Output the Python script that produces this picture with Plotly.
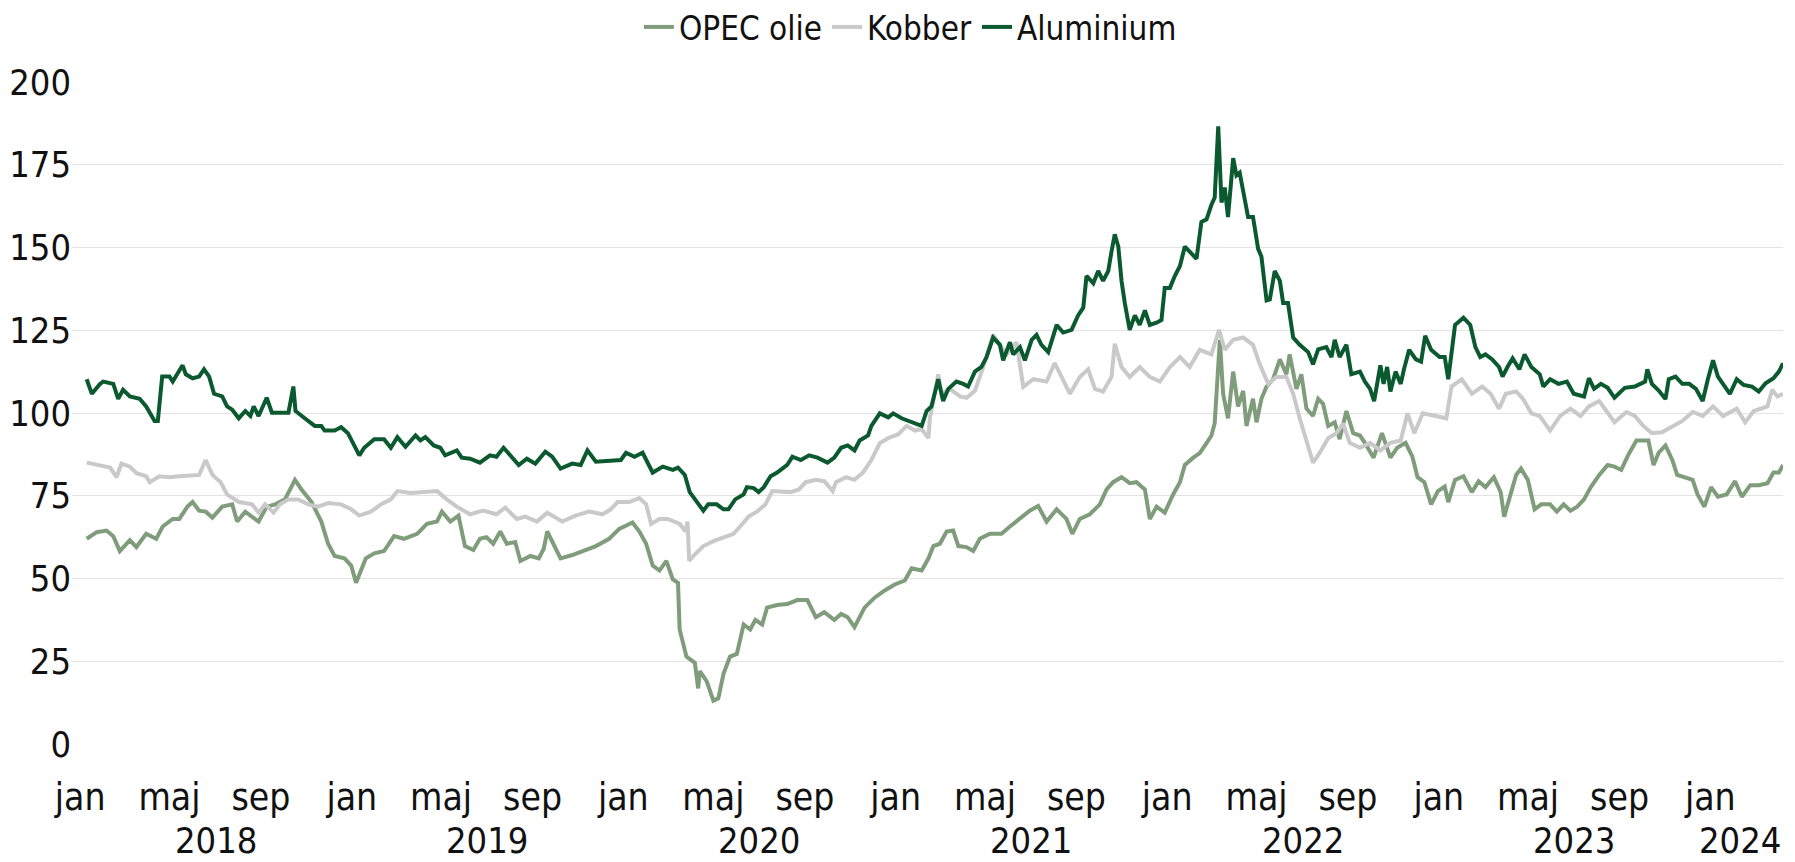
import pandas as pd
import plotly.graph_objects as go

# ---- data (time as decimal year, values as index) ----
alu_t = [2018.002,2018.021,2018.051,2018.063,2018.100,2018.118,2018.136,2018.161,2018.197,2018.221,2018.252,2018.264,2018.280,2018.307,2018.319,2018.355,2018.367,2018.392,2018.416,2018.434,2018.453,2018.471,2018.501,2018.519,2018.538,2018.562,2018.586,2018.605,2018.617,2018.635,2018.665,2018.684,2018.708,2018.745,2018.763,2018.771,2018.805,2018.842,2018.866,2018.878,2018.915,2018.939,2018.964,2018.988,2019.006,2019.024,2019.061,2019.097,2019.122,2019.146,2019.176,2019.213,2019.231,2019.249,2019.280,2019.304,2019.322,2019.365,2019.383,2019.414,2019.450,2019.487,2019.511,
         2019.537,2019.562,2019.593,2019.623,2019.654,2019.691,2019.716,2019.747,2019.790,2019.821,2019.846,2019.877,2019.938,2019.969,2019.988,2020.019,2020.049,2020.074,2020.086,2020.123,2020.160,2020.179,2020.204,2020.222,2020.247,2020.272,2020.290,2020.321,2020.346,2020.364,2020.389,2020.420,2020.432,2020.457,2020.475,2020.494,2020.519,2020.543,2020.580,2020.599,2020.630,2020.660,2020.691,2020.728,2020.753,2020.778,2020.802,2020.827,2020.846,2020.877,2020.889,2020.920,2020.951,2020.969,2021.000,2021.037,2021.074,
         2021.092,2021.110,2021.135,2021.153,2021.172,2021.202,2021.227,2021.245,2021.270,2021.294,2021.313,2021.337,2021.362,2021.374,2021.399,2021.411,2021.436,2021.454,2021.479,2021.497,2021.515,2021.540,2021.571,2021.595,2021.626,2021.650,2021.669,2021.681,2021.706,2021.724,2021.742,2021.761,2021.773,2021.785,2021.798,2021.810,2021.822,2021.840,2021.859,2021.877,2021.896,2021.914,2021.939,2021.957,2021.969,2021.988,2022.006,2022.025,2022.043,2022.061,2022.086,2022.104,2022.123,2022.141,2022.153,2022.166,2022.178,2022.190,2022.202,2022.221,2022.233,2022.245,2022.258,2022.276,2022.294,2022.313,2022.325,2022.344,2022.356,2022.374,2022.393,2022.405,2022.423,2022.442,2022.466,2022.497,2022.515,2022.534,2022.564,2022.583,2022.595,2022.613,2022.638,2022.656,
         2022.688,2022.706,2022.725,2022.740,2022.763,2022.775,2022.788,2022.800,2022.819,2022.838,2022.850,2022.869,2022.894,2022.913,2022.928,2022.950,2022.981,2023.000,2023.013,2023.025,2023.038,2023.069,2023.094,2023.113,2023.131,2023.150,2023.175,2023.200,2023.213,2023.231,2023.250,2023.275,2023.294,2023.319,2023.350,2023.363,2023.388,2023.419,2023.450,2023.475,2023.513,2023.531,2023.550,2023.575,2023.600,2023.625,2023.663,2023.700,2023.738,2023.746,2023.763,2023.788,2023.813,2023.825,2023.850,2023.875,2023.900,2023.925,2023.950,2023.969,2023.988,2024.006,2024.031,2024.050,2024.075,2024.100,2024.131,2024.156,2024.181,2024.210,2024.230,2024.245]
alu_v = [110.2,105.8,108.8,109.5,108.8,104.3,107,105,104.3,102,97.6,97.6,111,111,109.5,114.4,111.7,110.5,111,113.2,111,105.8,105,102,101,98.4,100.6,99.1,102,99.1,104.6,100.1,100.1,100.1,108,100.6,98.4,96.1,96.1,94.7,94.7,95.7,93.9,90.2,87.2,89.5,92.1,92.1,89.5,92.7,89.8,93.2,91.7,92.7,90.2,89.5,87.2,88.7,86.5,86.2,85,87.2,86.8,
         89.5,87.2,84.3,86.2,84.7,88.3,86.8,83.2,84.7,84.3,88.7,85.3,85.8,85.8,88,86.8,88,84.3,82,83.8,82.8,83.5,81.3,76.1,73.1,70.5,72.4,72.4,70.9,70.9,73.9,75.4,77.6,77.3,76.1,77.6,80.9,82,84.3,86.8,85.8,87.2,86.5,85,86.5,89.5,90.2,88.7,91.7,93.2,96.1,99.9,98.7,99.9,98.4,97.2,96.1,
         100.6,102,110.2,103.6,107.3,109.5,108.8,108,112.5,113.9,116.9,122.8,120.6,115.9,121.4,117.7,119.9,115.9,122.1,123.6,120.6,118.4,126.6,124.3,125.1,129.5,131.8,141.4,139.2,142.9,139.9,142.9,148.8,154,150.3,139.9,133.2,125.1,129.5,126.6,131,126.6,127.3,128.1,137.8,137.8,141.4,144.4,150.3,148.8,146.6,157.7,158.5,162.9,165.1,186.6,163.6,168.1,159.2,177,171.8,172.6,167.4,159.2,159.2,149.6,147.3,134,134.3,142.9,139.9,133.2,133.2,122.8,120.6,118.4,114.7,119.2,119.9,116.9,122.1,116.9,120.6,111.7,
         112.5,109.5,107.3,103.6,114.4,108.8,113.9,106.5,112.5,108.8,113.2,119.1,116.2,115.5,123.3,119.1,116.9,116.9,110.2,119.1,126.6,128.8,126.6,119.9,116.9,117.7,116.2,113.9,111,113.9,116.5,113.2,117.7,113.9,111.7,108,110.2,108.8,109.5,105.8,105,110.5,107.3,108.8,107.6,104.6,107.6,108,109.5,113.2,108.8,106.8,104.2,110.2,111,108.8,108.8,107.3,103.6,110.2,115.9,111,108,105.8,110.2,108.5,108,106.5,109,110.5,112.5,115]

kob_t = [2018.002,2018.039,2018.088,2018.112,2018.130,2018.161,2018.185,2018.221,2018.234,2018.270,2018.307,2018.343,2018.392,2018.416,2018.440,2018.465,2018.495,2018.519,2018.562,2018.611,2018.635,2018.659,2018.690,2018.714,2018.745,2018.781,2018.818,2018.854,2018.891,2018.939,2018.976,2019.006,2019.049,2019.085,2019.122,2019.146,2019.195,2019.243,2019.292,2019.328,2019.365,2019.414,2019.462,2019.511,
         2019.543,2019.586,2019.617,2019.660,2019.698,2019.753,2019.802,2019.852,2019.901,2019.932,2019.957,2020.000,2020.037,2020.062,2020.080,2020.111,2020.142,2020.185,2020.207,2020.214,2020.220,2020.235,2020.272,2020.309,2020.346,2020.383,2020.407,2020.438,2020.469,2020.500,2020.525,2020.556,2020.593,2020.623,2020.648,2020.685,2020.716,2020.747,2020.759,2020.796,2020.827,2020.858,2020.889,2020.920,2020.951,2020.988,2021.019,2021.049,2021.074,2021.099,
         2021.104,2021.135,2021.147,2021.178,2021.215,2021.239,2021.270,2021.301,2021.337,2021.362,2021.387,2021.423,2021.448,2021.485,2021.534,2021.564,2021.589,2021.620,2021.656,2021.687,2021.712,2021.742,2021.773,2021.785,2021.810,2021.840,2021.877,2021.914,2021.951,2021.988,2022.025,2022.061,2022.098,2022.141,2022.169,2022.190,2022.221,2022.258,2022.294,2022.319,2022.350,2022.380,2022.417,2022.442,2022.466,2022.491,2022.515,2022.540,2022.571,2022.601,2022.626,2022.650,
         2022.688,2022.725,2022.763,2022.800,2022.838,2022.863,2022.888,2022.919,2022.963,2023.006,2023.025,2023.063,2023.100,2023.138,2023.169,2023.200,2023.225,2023.263,2023.288,2023.319,2023.350,2023.388,2023.425,2023.463,2023.500,2023.531,2023.569,2023.600,2023.625,2023.669,2023.700,2023.731,2023.763,2023.800,2023.838,2023.875,2023.913,2023.950,2023.988,2024.025,2024.075,2024.106,2024.138,2024.188,2024.205,2024.225,2024.245]
kob_v = [85,84.3,83.5,80.6,84.7,83.8,81.8,80.9,79.1,80.9,80.6,80.9,81.3,81.3,85.8,81.3,79.1,75.4,73.1,72.4,69.9,72.4,69.9,72.4,73.9,73.9,72.4,71.7,72.8,72.4,70.9,69,70.2,72.4,73.9,76.4,75.8,76.1,76.4,73.9,71.7,69.4,70.5,69.4,
         71.4,68,68.7,67.2,69.9,67.2,69,70.2,69.4,70.9,73.1,73.1,74.3,72.4,66.5,68,68,66.5,64.2,67.2,55.3,56.8,59.8,61.3,62.5,63.5,65.7,68.7,70.2,72.4,76.4,76.4,76.1,76.9,79.1,79.8,79.4,76.4,79.1,80.6,79.8,82,85.8,90.9,92.4,93.6,96.1,94.7,95.1,92.4,
         98.4,111.7,105.8,107.3,105,104.6,106.7,113.9,123.6,120.6,117.7,121.4,107.9,110.2,109.5,115.1,110.9,105.8,110.9,113.2,107.3,106.5,110.9,120.9,113.9,110.9,113.9,110.9,109.5,113.9,116.9,113.9,119.1,117.7,125.1,119.1,122.1,122.8,120.6,114.7,108.8,110.9,110.9,105.8,98.4,91,85,88,92.4,93.9,96.9,91,
         89.5,91,88.7,91,91.7,99.9,93.9,99.9,99.1,98.4,108,110.2,105.8,108,105.8,101.3,105.8,106.5,104.3,99.9,99.1,94.7,99.1,101.3,99.1,102,103.6,99.9,97.2,100.3,99.1,96.1,93.9,94.2,96.1,97.6,100.3,99.1,102,99.1,101.3,97.2,100.6,102,107,105,105.8]

opec_t = [2018.002,2018.039,2018.075,2018.100,2018.124,2018.161,2018.185,2018.221,2018.258,2018.282,2018.319,2018.343,2018.373,2018.392,2018.416,2018.440,2018.465,2018.501,2018.538,2018.556,2018.586,2018.635,2018.665,2018.696,2018.732,2018.769,2018.793,2018.830,2018.866,2018.891,2018.915,2018.951,2018.976,2018.994,2019.012,2019.030,2019.061,2019.097,2019.134,2019.170,2019.219,2019.255,2019.292,2019.310,2019.341,2019.371,2019.395,2019.426,2019.450,2019.474,2019.499,
          2019.525,2019.549,2019.580,2019.599,2019.636,2019.667,2019.685,2019.698,2019.716,2019.747,2019.790,2019.827,2019.877,2019.926,2019.963,2020.012,2020.037,2020.062,2020.086,2020.111,2020.136,2020.160,2020.179,2020.185,2020.210,2020.241,2020.253,2020.259,2020.284,2020.309,2020.327,2020.346,2020.370,2020.395,2020.420,2020.444,2020.463,2020.488,2020.506,2020.543,2020.580,2020.617,2020.654,2020.685,2020.716,2020.753,2020.778,2020.802,2020.827,2020.864,2020.901,2020.938,2020.975,2021.012,2021.037,2021.074,2021.099,
          2021.117,2021.141,2021.166,2021.190,2021.209,2021.239,2021.264,2021.288,2021.325,2021.368,2021.399,2021.436,2021.472,2021.503,2021.534,2021.571,2021.607,2021.629,2021.656,2021.693,2021.730,2021.755,2021.779,2021.810,2021.840,2021.865,2021.896,2021.914,2021.939,2021.969,2022.000,2022.025,2022.043,2022.074,2022.098,2022.123,2022.141,2022.153,2022.162,2022.172,2022.184,2022.202,2022.221,2022.239,2022.258,2022.270,2022.294,2022.307,2022.325,2022.344,2022.368,2022.393,2022.417,2022.429,2022.454,2022.472,2022.491,2022.515,2022.534,2022.552,2022.571,2022.595,2022.613,2022.638,2022.663,
          2022.688,2022.706,2022.738,2022.769,2022.800,2022.825,2022.856,2022.881,2022.900,2022.925,2022.950,2022.975,2023.000,2023.013,2023.038,2023.069,2023.100,2023.125,2023.150,2023.181,2023.206,2023.219,2023.238,2023.263,2023.281,2023.306,2023.331,2023.356,2023.388,2023.413,2023.438,2023.463,2023.488,2023.513,2023.538,2023.569,2023.600,2023.625,2023.650,2023.675,2023.706,2023.725,2023.750,2023.769,2023.788,2023.813,2023.838,2023.856,2023.881,2023.913,2023.931,2023.956,2023.981,2024.006,2024.038,2024.069,2024.094,2024.125,2024.156,2024.188,2024.210,2024.230,2024.245]
opec_v = [62,64,64.5,62.8,58.3,61.6,59.5,63.5,62,65.7,68,68,71.7,73.1,70.5,70.2,68.4,71.7,72.4,67.2,70.2,67.2,71.7,72.4,73.9,79.8,76.9,73.1,67.2,60.5,56.8,56.1,53.9,48.7,52.4,56.1,57.6,58.3,62.8,62,63.5,66.5,67.2,70.2,67.2,69,59.8,58.6,62,62.5,60.5,
          64.2,60.5,61,55.3,56.8,56.1,59,64.2,61.3,56.1,57.1,58.3,59.8,62,65,66.9,64.2,60.5,53.9,52.4,55.3,49.7,48.7,34.6,26.4,24.5,16.8,22,19,13.1,13.8,21.2,26.4,27.2,36.1,34.6,37.5,36.1,41.2,42,42.3,43.5,43.5,38.3,39.8,37.5,39.3,38.3,35.3,41.2,44.2,46.4,48.2,49.4,53.1,52.4,56.1,
          59.8,60.5,64.2,64.5,59.8,59.5,58.3,62,63.5,63.5,65.7,68,70.5,71.9,67.2,70.9,68,63.5,68,69.4,72.4,76.9,79.1,80.6,78.8,79.1,76.9,68,71.7,69.9,75.4,79.1,84.3,86.5,87.9,90.9,93.2,96.9,110.2,122.1,105.8,98.4,112.5,102,106.7,96.1,104.3,97.2,104.3,108,110.2,116.2,111.7,117.7,107.3,111.7,101.3,99.1,104.3,102.8,96.1,97.2,92.1,100.6,93.9,
          93.2,91,86.5,93.9,86.5,89.5,91,86.8,80.6,79.1,72.4,76.4,77.8,73.1,79.8,80.9,76.1,79.4,77.6,80.6,76.1,68.7,73.9,81.3,83.2,79.8,70.9,72.4,72.4,70.2,72.4,70.5,71.7,73.9,77.6,81.3,84.3,83.8,82.8,87.2,91.7,91.7,91.7,84.3,88,90.2,85.8,81.3,80.6,79.8,75.4,71.7,77.6,74.7,75.4,79.4,74.7,78.2,78.2,78.8,82,82,84.3]

series_names = ["OPEC olie", "Kobber", "Aluminium"]
series_colors = ["#7f9d7b", "#c9c9c9", "#0b5a2f"]
month_names = {1: "jan", 5: "maj", 9: "sep"}
years = [2018, 2019, 2020, 2021, 2022, 2023, 2024]
y_ticks = [0, 25, 50, 75, 100, 125, 150, 175, 200]


def to_date(t):
    y = int(t)
    start = pd.Timestamp(year=y, month=1, day=1)
    ndays = (pd.Timestamp(year=y + 1, month=1, day=1) - start).days
    return start + pd.Timedelta(days=(t - y) * ndays)


FONT = "Liberation Sans Narrow, DejaVu Sans Condensed, Liberation Sans, sans-serif"
TXT = "#111111"
# the reference's month labels sit a few days ahead of the month start
LABEL_SHIFT = pd.Timedelta(days=8)

fig = go.Figure()
for name, color, ts, vs in zip(series_names, series_colors,
                               [opec_t, kob_t, alu_t], [opec_v, kob_v, alu_v]):
    fig.add_trace(go.Scatter(x=[to_date(t) for t in ts], y=vs, mode="lines", name=name,
                             line=dict(color=color, width=4)))

tickvals, ticktext = [], []
for y in years:
    for m in (1, 5, 9):
        d = pd.Timestamp(year=y, month=m, day=1)
        if d <= pd.Timestamp("2024-01-01"):
            tickvals.append(d - LABEL_SHIFT)
            ticktext.append(month_names[m])

x_end = to_date(max(alu_t[-1], kob_t[-1], opec_t[-1]))
x_start = pd.Timestamp("2017-12-21") - LABEL_SHIFT

for y in years:
    if y < 2024:
        xc = pd.Timestamp(year=y, month=7, day=2)
    else:
        xc = pd.Timestamp(year=2024, month=2, day=10)
    fig.add_annotation(x=xc - LABEL_SHIFT, y=-0.146, xref="x", yref="paper", text=str(y), showarrow=False,
                       yanchor="middle", xanchor="center", font=dict(size=36, color=TXT, family=FONT))

# note: the page body adds an 8px offset, margins compensate for it
fig.update_layout(
    width=1795, height=862,
    margin=dict(l=64, r=20, t=74, b=126),
    paper_bgcolor="white", plot_bgcolor="white",
    font=dict(family=FONT, size=36, color=TXT),
    showlegend=True,
    legend=dict(orientation="h", x=0.49, xanchor="center", yref="container", y=0.978, yanchor="middle",
                font=dict(size=33, family=FONT, color=TXT), itemwidth=30,
                tracegroupgap=0, bgcolor="rgba(0,0,0,0)"),
    xaxis=dict(type="date", range=[x_start, x_end], tickvals=tickvals, ticktext=ticktext,
               showgrid=False, zeroline=False, showline=False, ticks="", automargin=False,
               ticklabelstandoff=28, tickfont=dict(size=37, family=FONT, color=TXT)),
    yaxis=dict(range=[0, 200], tickvals=y_ticks, showgrid=True, gridcolor="#e3e3e3", gridwidth=1,
               zeroline=False, showline=False, ticks="", ticklabelstandoff=0, automargin=False,
               tickfont=dict(size=36, family=FONT, color=TXT)),
)

fig.write_html("out.html")
